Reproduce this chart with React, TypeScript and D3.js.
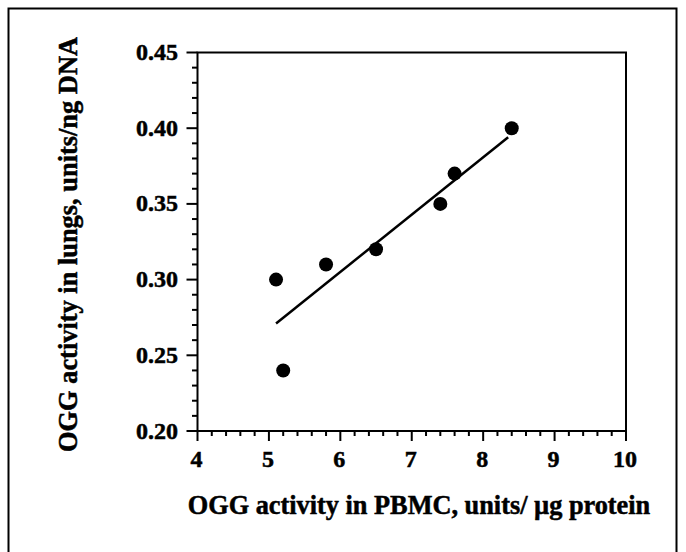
import React from "react";
import * as d3 from "d3";

const xValues = [5.1, 5.2, 5.8, 6.5, 7.4, 7.6, 8.4];
const yValues = [0.3, 0.24, 0.31, 0.32, 0.35, 0.37, 0.4];
const fitX = [5.1, 8.35];
const fitY = [0.271, 0.394];
const xTicks = [4, 5, 6, 7, 8, 9, 10];
const yTicks = [0.2, 0.25, 0.3, 0.35, 0.4, 0.45];
const xTitle = "OGG activity in PBMC, units/ \u00b5g protein";
const yTitle = "OGG activity in lungs, units/ng DNA";

const W = 686;
const H = 552;
const L = 197.5, R = 626, T = 52.5, B = 431;

export default function App() {
  const x = d3.scaleLinear().domain([4, 10]).range([L, R]);
  const y = d3.scaleLinear().domain([0.2, 0.45]).range([B, T]);
  const xMinor = d3.range(4, 10.001, 0.2).filter((v) => Math.abs(v - Math.round(v)) > 1e-6);
  const yMinor = d3.range(0.2, 0.4501, 0.01).filter((v) => Math.abs(v * 20 - Math.round(v * 20)) > 1e-6);
  const line = d3.line<number>().x((d, i) => x(fitX[i])).y((d, i) => y(fitY[i]));
  const font = "'Liberation Serif', 'Times New Roman', serif";
  return (
    <svg width={W} height={H} style={{ position: "absolute", left: 0, top: 0, background: "#fff" }} fontFamily={font} fontWeight="bold">
      <rect x={8.5} y={8.5} width={668} height={600} fill="none" stroke="#000" strokeWidth={2} />
      <path d={`M${L},${B}V${T}H${R}V${B}H${L}`} fill="none" stroke="#000" strokeWidth={2} />
      <g stroke="#000" strokeWidth={0.5}>
        {yTicks.map((t) => (
          <text key={"yl" + t} x={178} y={y(t) + 7.5} textAnchor="end" fontSize={24}>{t.toFixed(2)}</text>
        ))}
        {xTicks.map((t) => (
          <text key={"xl" + t} x={x(t) - 1} y={466.5} textAnchor="middle" fontSize={24}>{t}</text>
        ))}
        <text x={419} y={514} textAnchor="middle" fontSize={26.3}>{xTitle}</text>
        <text transform={`translate(77,244.5) rotate(-90)`} textAnchor="middle" fontSize={26.4}>{yTitle}</text>
      </g>
      {yTicks.map((t) => (
        <line key={"yt" + t} x1={L - 11} x2={L} y1={y(t)} y2={y(t)} stroke="#000" strokeWidth={2} />
      ))}
      {yMinor.map((t) => (
        <line key={"ym" + t} x1={L - 5.5} x2={L} y1={y(t)} y2={y(t)} stroke="#000" strokeWidth={2} />
      ))}
      {xTicks.map((t) => (
        <line key={"xt" + t} x1={x(t)} x2={x(t)} y1={B} y2={B + 10} stroke="#000" strokeWidth={2} />
      ))}
      {xMinor.map((t) => (
        <line key={"xm" + t} x1={x(t)} x2={x(t)} y1={B} y2={B + 5} stroke="#000" strokeWidth={2} />
      ))}
      <path d={line(fitX) || ""} fill="none" stroke="#000" strokeWidth={2.5} />
      {xValues.map((v, i) => (
        <circle key={"p" + i} cx={x(v)} cy={y(yValues[i])} r={7} fill="#000" />
      ))}
    </svg>
  );
}
